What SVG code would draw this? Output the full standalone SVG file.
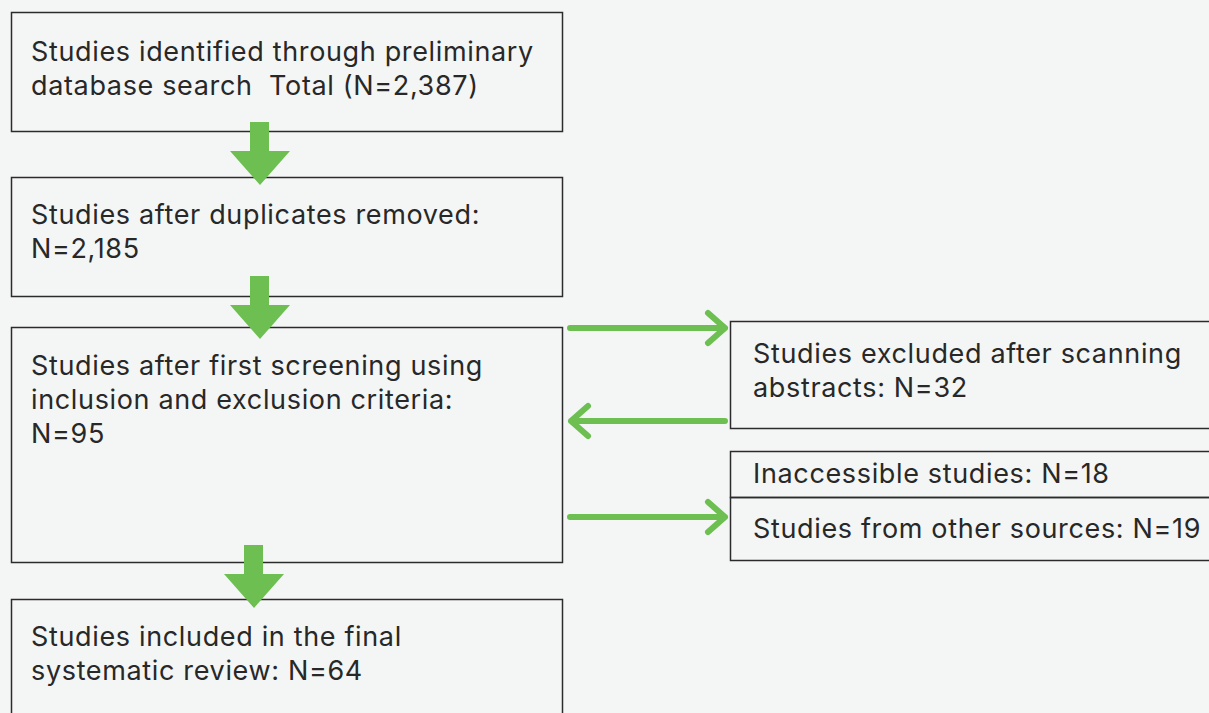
<svg xmlns="http://www.w3.org/2000/svg" width="1209" height="713" viewBox="0 0 1209 713">
<defs>
<style>
.box{fill:none;stroke:#2b2b2b;stroke-width:1.5}
.t{font-family:Inter,"Open Sans",sans-serif;font-size:27px;letter-spacing:0.65px;fill:#282828}
.down{fill:#6dbf52}
.h{fill:none;stroke:#6dbf52;stroke-width:6;stroke-linecap:round;stroke-linejoin:round}
</style>
</defs>
<rect width="1209" height="713" fill="#f4f6f5"/>
<g id="n1"><rect class="box" x="11.5" y="12.5" width="551" height="119"/>
<text class="t" x="31" y="61">Studies identified through preliminary</text>
<text class="t" x="31" y="95" xml:space="preserve">database search  Total (N=2,387)</text></g>
<g id="n2"><rect class="box" x="11.5" y="177.5" width="551" height="119"/>
<text class="t" x="31" y="224">Studies after duplicates removed:</text>
<text class="t" x="31" y="258">N=2,185</text></g>
<g id="n3"><rect class="box" x="11.5" y="327.5" width="551" height="235"/>
<text class="t" x="31" y="375">Studies after first screening using</text>
<text class="t" x="31" y="409">inclusion and exclusion criteria:</text>
<text class="t" x="31" y="443">N=95</text></g>
<g id="n4"><rect class="box" x="11.5" y="599.5" width="551" height="130"/>
<text class="t" x="31" y="646">Studies included in the final</text>
<text class="t" x="31" y="680">systematic review: N=64</text></g>
<g id="n5"><rect class="box" x="730.5" y="321.5" width="490" height="107"/>
<text class="t" x="753" y="363">Studies excluded after scanning</text>
<text class="t" x="753" y="397">abstracts: N=32</text></g>
<g id="n6"><rect class="box" x="730.5" y="451.5" width="490" height="46"/>
<text class="t" x="753" y="483">Inaccessible studies: N=18</text></g>
<g id="n7"><rect class="box" x="730.5" y="497.5" width="490" height="63"/>
<text class="t" x="753" y="538">Studies from other sources: N=19</text></g>
<g id="connectors">
<path class="down" d="M250,122 H269 V151 H290 L260,185 L230,151 H250 Z"/>
<path class="down" d="M250,276 H269 V305 H290 L260,339 L230,305 H250 Z"/>
<path class="down" d="M244,545 H263 V574 H284 L254,608 L224,574 H244 Z"/>
<path class="h" d="M570,328 H725 M708,313 L725,328 L708,343"/>
<path class="h" d="M725,421 H571 M588,406 L571,421 L588,436"/>
<path class="h" d="M570,517 H725 M708,502 L725,517 L708,532"/>
</g>
</svg>
